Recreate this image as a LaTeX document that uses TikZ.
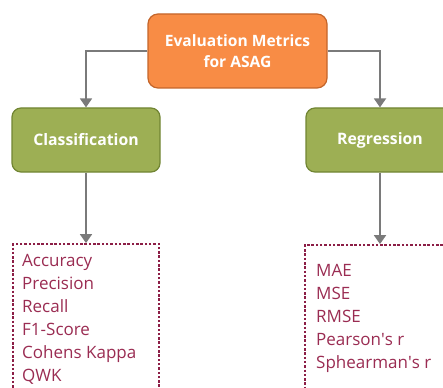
\documentclass[tikz,border=0pt]{standalone}
\usepackage{fontspec}
\setmainfont{Open Sans}
\usetikzlibrary{arrows.meta}
\definecolor{orfill}{HTML}{F88C45}
\definecolor{ordraw}{HTML}{C4652A}
\definecolor{olfill}{HTML}{9DAF54}
\definecolor{oldraw}{HTML}{718533}
\definecolor{maroon}{HTML}{9A2C52}
\definecolor{dashc}{HTML}{8C1E46}
\definecolor{conn}{HTML}{7A7A7A}
\tikzset{
  topbox/.style={draw=ordraw, fill=orfill, line width=1.2pt, rounded corners=10pt,
    minimum width=179pt, minimum height=74pt, text=white, align=center,
    font=\fontsize{15.6}{21.5}\selectfont\bfseries, inner sep=0pt},
  catbox/.style={draw=oldraw, fill=olfill, line width=1.2pt, rounded corners=9pt,
    minimum width=148pt, minimum height=64pt, text=white,
    font=\fontsize{15.8}{18}\selectfont\bfseries, inner sep=0pt},
  listbox/.style={draw=dashc, line width=1.8pt, dash pattern=on 2.5pt off 1.8pt,
    minimum height=156pt, inner sep=0pt},
  listtext/.style={text=maroon, align=left, anchor=north west, inner sep=0pt,
    font=\fontsize{17}{23}\selectfont},
  conn/.style={draw=conn, line width=1.8pt, -{Triangle[length=9pt,width=12pt]}}
}
\begin{document}
\begin{tikzpicture}[x=1pt,y=-1pt]
\useasboundingbox (0,0) rectangle (443,387);
\clip (0,0) rectangle (443,387);
\node[topbox] (top) at (237.5,51) {Evaluation Metrics\\for ASAG};
\node[catbox] (cls) at (86,140) {Classification};
\node[catbox] (reg) at (380,140) {Regression};
\node[listbox, minimum width=146pt] (lbox) at (86,322) {};
\node[listbox, minimum width=150pt] (rbox) at (380,323) {};
\node[listtext] (ltext) at (22,254.5) {Accuracy\\Precision\\Recall\\F1-Score\\Cohens Kappa\\QWK};
\node[listtext] (rtext) at (316,264.5) {MAE\\MSE\\RMSE\\Pearson\textquotesingle s r\\Sphearman\textquotesingle s r};
\draw[conn] (top.west) -| (cls.north);
\draw[conn] (top.east) -| (reg.north);
\draw[conn] (cls.south) -- (lbox.north);
\draw[conn] (reg.south) -- (rbox.north);
\end{tikzpicture}
\end{document}
